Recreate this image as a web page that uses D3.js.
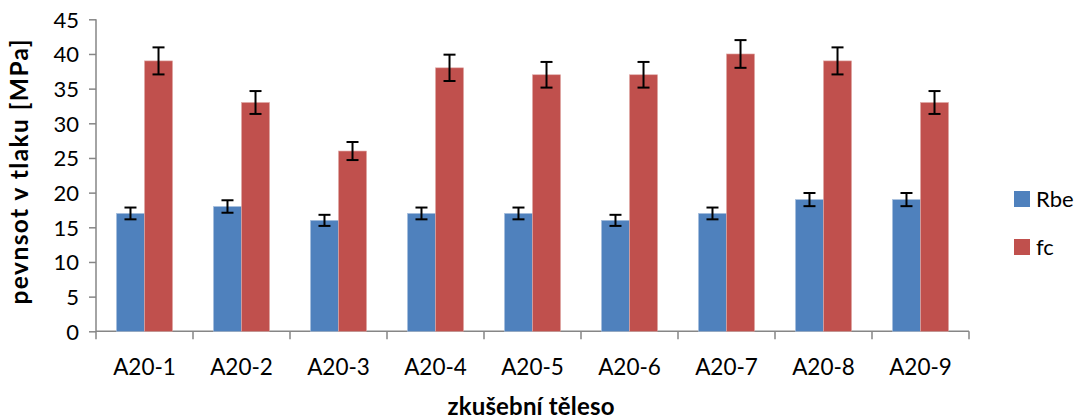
<!DOCTYPE html>
<html><head><meta charset="utf-8">
<script src="https://cdn.jsdelivr.net/npm/d3@7"></script>
<style>body{margin:0;background:#fff}svg{display:block}text{font-family:Lato,"Open Sans",sans-serif;fill:#000}</style>
</head><body><svg id="c" width="1085" height="419"></svg>
<script>
const categories = ["A20-1","A20-2","A20-3","A20-4","A20-5","A20-6","A20-7","A20-8","A20-9"];
const seriesNames = ["Rbe","fc"];
const rbe = [17,18,16,17,17,16,17,19,19];
const fc = [39,33,26,38,37,37,40,39,33];
const errorPct = 0.05;
const yTicks = [0,5,10,15,20,25,30,35,40,45];
const colors = ["#4F81BD","#C0504D"];

const svg = d3.select("#c");
const mLeft = 96, mRight = 969, mTop = 19.3, mBottom = 331.3;
const x = d3.scaleBand().domain(categories).range([mLeft, mRight]);
const y = d3.scaleLinear().domain([0,45]).range([mBottom, mTop]);
const inner = d3.scaleBand().domain(seriesNames).range([0, x.bandwidth()]).paddingInner(0).paddingOuter(0.73);

// axes
const yAxis = svg.append("g").attr("transform",`translate(${mLeft},0)`)
  .call(d3.axisLeft(y).tickValues(yTicks).tickSize(7).tickPadding(8));
yAxis.selectAll("path,line").attr("stroke","#868686").attr("stroke-width",1.5);
yAxis.selectAll("text").style("font-size","22px").attr("dx","-2").attr("dy","0.36em").style("font-family","Lato, sans-serif");
yAxis.select(".domain").attr("d",`M0,${mTop}V${mBottom}`);

const xAxis = svg.append("g").attr("transform",`translate(0,${mBottom})`)
  .call(d3.axisBottom(x).tickSize(0).tickPadding(0));
xAxis.selectAll("path").attr("stroke","#868686").attr("stroke-width",1.5).attr("d",`M${mLeft},0H${mRight}`);
xAxis.selectAll("text").style("font-size","22.5px").style("font-family","Lato, sans-serif").attr("y",44).attr("dy",0);
// category boundary ticks
const bounds = categories.map(c => x(c)).concat([mRight]);
svg.append("g").selectAll("line").data(bounds).join("line")
  .attr("x1",d=>d).attr("x2",d=>d).attr("y1",mBottom).attr("y2",mBottom+8)
  .attr("stroke","#868686").attr("stroke-width",1.5);

const data = [rbe, fc];
data.forEach((vals, si) => {
  const g = svg.append("g");
  g.selectAll("rect").data(vals).join("rect")
    .attr("x",(d,i)=>x(categories[i]) + inner(seriesNames[si]))
    .attr("y",d=>y(d)).attr("width",inner.bandwidth()).attr("height",d=>mBottom - y(d))
    .attr("fill",colors[si]).attr("stroke", si===0?"#a9c0de":"#e0a8a6").attr("stroke-width",0.6);
  const eb = svg.append("g").attr("stroke","#000").attr("stroke-width",2);
  vals.forEach((d,i) => {
    const cx = x(categories[i]) + inner(seriesNames[si]) + inner.bandwidth()/2;
    const hi = y(d*(1+errorPct)), lo = y(d*(1-errorPct));
    eb.append("line").attr("x1",cx).attr("x2",cx).attr("y1",hi).attr("y2",lo);
    eb.append("line").attr("x1",cx-6).attr("x2",cx+6).attr("y1",hi).attr("y2",hi);
    eb.append("line").attr("x1",cx-6).attr("x2",cx+6).attr("y1",lo).attr("y2",lo);
  });
});

// legend
const lg = svg.append("g");
seriesNames.forEach((n,i) => {
  const ly = 191 + i*48;
  lg.append("rect").attr("x",1014).attr("y",ly).attr("width",16).attr("height",16).attr("fill",colors[i]);
  lg.append("text").attr("x",1036).attr("y",ly+16).style("font-size","22px").text(n);
});

// titles
svg.append("text").attr("transform",`translate(28,172) rotate(-90)`)
  .attr("text-anchor","middle").style("font-size","24.5px").style("font-weight","bold")
  .attr("textLength",265).attr("lengthAdjust","spacing").text("pevnsot v tlaku [MPa]");
svg.append("text").attr("x",531).attr("y",415).attr("text-anchor","middle")
  .style("font-size","24px").style("font-weight","bold")
  .attr("textLength",167).attr("lengthAdjust","spacing").text("zkušební těleso");
</script></body></html>
